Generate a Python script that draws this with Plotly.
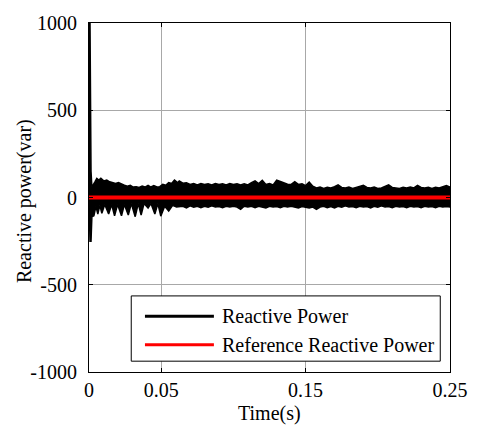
import plotly.graph_objects as go

# ---- data ----
# Reactive power envelope (upper / lower extremes of the dense oscillation)
t_upper = [0, 0.0007, 0.0014, 0.0020, 0.0041, 0.0054, 0.0068, 0.0082, 0.0102, 0.0123,
           0.0143, 0.0163, 0.0184, 0.0204, 0.0225, 0.0245, 0.0266, 0.0286, 0.0306, 0.0327,
           0.0347, 0.0368, 0.0388, 0.0409, 0.0429, 0.0449, 0.0470, 0.0490, 0.0511, 0.0531,
           0.0552, 0.0572, 0.0592, 0.0613,
           0.0625, 0.065, 0.0675, 0.07, 0.0725, 0.075, 0.0775, 0.08, 0.0825, 0.085,
           0.0875, 0.09, 0.0925, 0.095, 0.0975, 0.1, 0.1025, 0.105, 0.1075, 0.11,
           0.1125, 0.115, 0.1175, 0.12, 0.1225, 0.125, 0.1275, 0.13, 0.1325, 0.135,
           0.1375, 0.14, 0.1425, 0.145, 0.1475, 0.15, 0.1525, 0.155, 0.1575, 0.16,
           0.1625, 0.165, 0.1675, 0.17, 0.1725, 0.175, 0.1775, 0.18, 0.1825, 0.185,
           0.1875, 0.19, 0.1925, 0.195, 0.1975, 0.2, 0.2025, 0.205, 0.2075, 0.21,
           0.2125, 0.215, 0.2175, 0.22, 0.2225, 0.225, 0.2275, 0.23, 0.2325, 0.235,
           0.2375, 0.24, 0.2425, 0.245, 0.2475, 0.25]
q_upper = [1000, 1000, 150, 60, 90, 110, 100, 110, 95, 100,
           90, 85, 80, 85, 75, 70, 65, 70, 60, 62,
           58, 65, 60, 70, 60, 68, 60, 62, 75, 70,
           85, 80, 100, 85,
           95, 82, 85, 75, 80, 72, 80, 75, 78, 72,
           80, 75, 78, 72, 80, 75, 78, 72, 78, 72,
           85, 95, 80, 98, 75, 80, 72, 100, 92, 85,
           76, 75, 90, 75, 78, 68, 88, 65, 55, 60,
           52, 58, 55, 62, 72, 58, 55, 60, 52, 58,
           62, 70, 58, 55, 60, 52, 55, 62, 72, 58,
           55, 52, 58, 55, 60, 55, 70, 58, 55, 58,
           52, 58, 55, 60, 68, 60]

t_lower = [0, 0.0007, 0.0014, 0.0020, 0.0034, 0.0048, 0.0061, 0.0075, 0.0089, 0.0109,
           0.0136, 0.0157, 0.0177, 0.0198, 0.0225, 0.0245, 0.0272, 0.0293, 0.0320, 0.0341,
           0.0361, 0.0381, 0.0409, 0.0429, 0.0456, 0.0477, 0.0497, 0.0524, 0.0552, 0.0579,
           0.0606,
           0.0625, 0.065, 0.0675, 0.07, 0.0725, 0.075, 0.0775, 0.08, 0.0825, 0.085,
           0.0875, 0.09, 0.0925, 0.095, 0.0975, 0.1, 0.1025, 0.105, 0.1075, 0.11,
           0.1125, 0.115, 0.1175, 0.12, 0.1225, 0.125, 0.1275, 0.13, 0.1325, 0.135,
           0.1375, 0.14, 0.1425, 0.145, 0.1475, 0.15, 0.1525, 0.155, 0.1575, 0.16,
           0.1625, 0.165, 0.1675, 0.17, 0.1725, 0.175, 0.1775, 0.18, 0.1825, 0.185,
           0.1875, 0.19, 0.1925, 0.195, 0.1975, 0.2, 0.2025, 0.205, 0.2075, 0.21,
           0.2125, 0.215, 0.2175, 0.22, 0.2225, 0.225, 0.2275, 0.23, 0.2325, 0.235,
           0.2375, 0.24, 0.2425, 0.245, 0.2475, 0.25]
q_lower = [0, -250, -250, -110, -105, -50, -95, -45, -90, -40,
           -95, -40, -105, -40, -105, -40, -100, -35, -110, -35,
           -100, -35, -60, -35, -95, -35, -107, -50, -78, -45,
           -55,
           -55, -50, -60, -48, -55, -50, -58, -50, -55, -48,
           -55, -52, -58, -50, -55, -50, -55, -68, -50, -55,
           -50, -58, -50, -55, -60, -50, -55, -52, -58, -50,
           -55, -50, -55, -60, -52, -55, -60, -55, -68, -55,
           -50, -58, -52, -60, -50, -55, -48, -55, -52, -58,
           -50, -55, -52, -60, -50, -55, -48, -55, -52, -58,
           -50, -55, -52, -58, -50, -55, -52, -58, -50, -55,
           -52, -58, -50, -55, -52, -55]

# Reference reactive power
t_ref = [0, 0.25]
q_ref = [0, 0]

x_tickvals = [0, 0.05, 0.15, 0.25]
x_ticktext = ["0", "0.05", "0.15", "0.25"]
y_tickvals = [-1000, -500, 0, 500, 1000]
y_ticktext = ["-1000", "-500", "0", "500", "1000"]

legend_names = ["Reactive Power", "Reference Reactive Power"]
colors = ["#000000", "#ff0000"]

FONT = "Liberation Serif"

fig = go.Figure()

# envelope polygon of the oscillating reactive power
poly_x = t_upper + t_lower[::-1]
poly_y = q_upper + q_lower[::-1]
fig.add_trace(go.Scatter(
    x=poly_x, y=poly_y, mode="lines", fill="toself",
    fillcolor=colors[0], line=dict(color=colors[0], width=1.5),
    name=legend_names[0], showlegend=False, hoverinfo="skip"))

fig.add_trace(go.Scatter(
    x=t_ref, y=q_ref, mode="lines",
    line=dict(color=colors[1], width=4),
    name=legend_names[1], showlegend=False))

axis_common = dict(
    showline=True, linecolor="black", linewidth=1, mirror="allticks",
    ticks="inside", ticklen=4, tickcolor="black", tickwidth=1,
    showgrid=True, gridcolor="#a8a8a8", gridwidth=1, zeroline=False,
    tickfont=dict(family=FONT, size=20, color="black"),
)

fig.update_xaxes(range=[0, 0.25], tickvals=x_tickvals, ticktext=x_ticktext, **axis_common)
fig.update_yaxes(range=[-1000, 1000], tickvals=y_tickvals, ticktext=y_ticktext,
                 ticklabelstandoff=7, **axis_common)

# manual MATLAB-style legend box
shapes = [
    dict(type="rect", xref="paper", yref="paper", x0=0.117, x1=0.973, y0=0.031, y1=0.218,
         line=dict(color="black", width=1), fillcolor="white", layer="above"),
    dict(type="line", xref="paper", yref="paper", x0=0.155, x1=0.346, y0=0.160, y1=0.160,
         line=dict(color=colors[0], width=3), layer="above"),
    dict(type="line", xref="paper", yref="paper", x0=0.155, x1=0.346, y0=0.078, y1=0.078,
         line=dict(color=colors[1], width=3), layer="above"),
]
annotations = [
    dict(text=legend_names[0], xref="paper", yref="paper", x=0.362, y=0.160,
         xanchor="left", yanchor="middle", showarrow=False,
         font=dict(family=FONT, size=20, color="black")),
    dict(text=legend_names[1], xref="paper", yref="paper", x=0.362, y=0.078,
         xanchor="left", yanchor="middle", showarrow=False,
         font=dict(family=FONT, size=20, color="black")),
    dict(text="Time(s)", xref="paper", yref="paper", x=0.5, y=-0.12,
         xanchor="center", yanchor="middle", showarrow=False,
         font=dict(family=FONT, size=20, color="black")),
    dict(text="Reactive power(var)", xref="paper", yref="paper", x=-0.177, y=0.49,
         xanchor="center", yanchor="middle", showarrow=False, textangle=-90,
         font=dict(family=FONT, size=20, color="black")),
]

fig.update_layout(
    width=480, height=429,
    margin=dict(l=89, r=24, t=15, b=57),
    paper_bgcolor="white", plot_bgcolor="white",
    showlegend=False,
    shapes=shapes, annotations=annotations,
    font=dict(family=FONT, size=20, color="black"),
)

fig.write_html("out.html")
